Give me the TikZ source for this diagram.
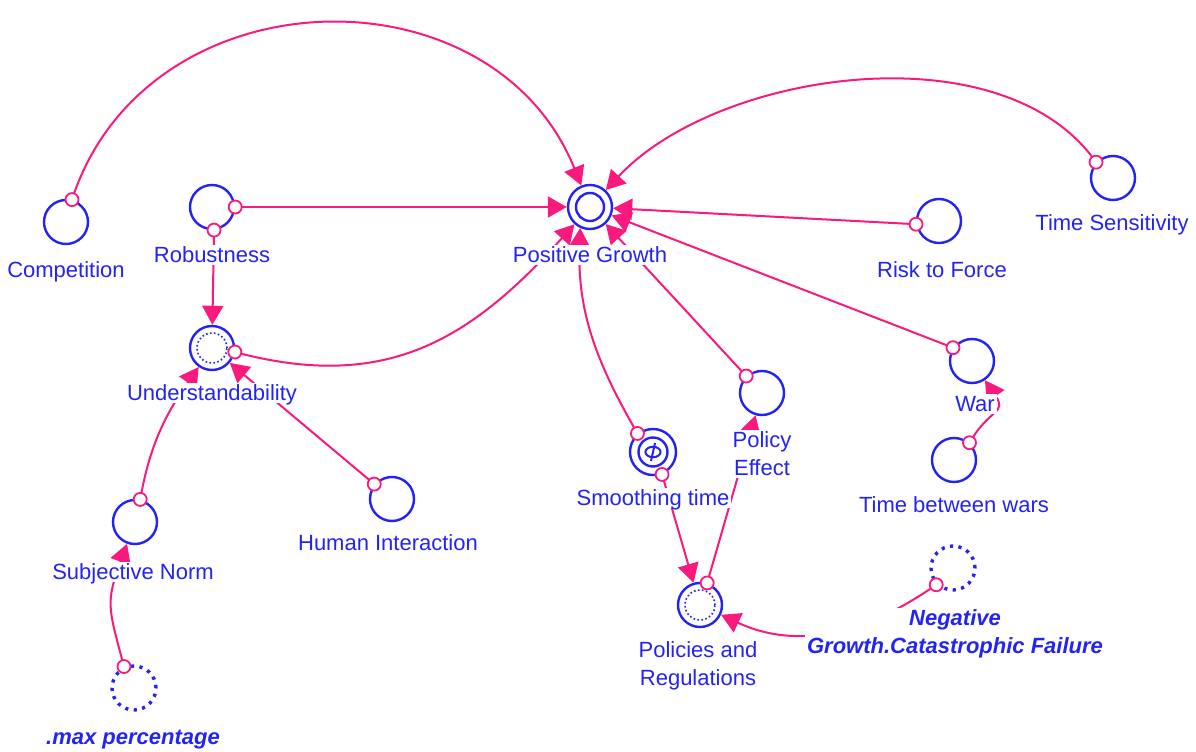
\documentclass[tikz,border=0pt]{standalone}
\usepackage{fontspec}
\setmainfont{Liberation Sans}
\usetikzlibrary{arrows.meta}
\definecolor{vblue}{RGB}{35,35,245}
\definecolor{vpink}{RGB}{250,25,125}

\begin{document}
\begin{tikzpicture}[x=0.5pt,y=0.5pt,>={Triangle[length=9.5pt,width=10.5pt]},
  aux/.style={circle,draw=vblue,line width=1.2pt,minimum size=22pt,inner sep=0pt,fill=white},
  ghost/.style={circle,draw=vblue,line width=1.7pt,dash pattern=on 1.6pt off 2.7pt,minimum size=22pt,inner sep=0pt},
  lbl/.style={fill=white,inner sep=1pt,text=vblue,font=\fontsize{11}{14}\selectfont,text height=8pt,text depth=0pt},
  lbls/.style={fill=white,inner sep=1pt,text=vblue,font=\fontsize{11}{14}\selectfont,align=center},
  link/.style={draw=vpink,line width=1pt},
  tail/.style={circle,draw=vpink,line width=0.9pt,fill=white,minimum size=6.5pt,inner sep=0pt,pos=0}]
  \useasboundingbox (0,0) rectangle (1196,751);

  \node [aux] (comp) at (66,529) {};
  \node [aux] (rob) at (212,544) {};
  \node [aux] (pg) at (590,544) {};
  \node [aux] (risk) at (939,530) {};
  \node [aux] (tsens) at (1113,573) {};
  \node [aux] (und) at (212,403) {};
  \node [aux] (war) at (972,390) {};
  \node [aux] (tbw) at (954,291) {};
  \node [aux] (peff) at (762,358) {};
  \node [aux,minimum size=23pt] (smooth) at (653,299) {};
  \node [aux] (hum) at (392,252) {};
  \node [aux] (subj) at (135,229) {};
  \node [ghost] (maxp) at (134,63) {};
  \node [ghost] (neg) at (953,183) {};
  \node [aux] (pol) at (700,146) {};

  % inner rings
  \draw [vblue,line width=1.2pt] (pg) circle (7pt);
  \draw [vblue,line width=0.8pt,dash pattern=on 0.8pt off 1.2pt] (und) circle (7.5pt);
  \draw [vblue,line width=0.8pt,dash pattern=on 0.8pt off 1.2pt] (pol) circle (7.5pt);
  \draw [vblue,line width=1.2pt] (smooth) circle (7.25pt);
  \draw [vblue,line width=1pt] (smooth) ellipse (3.8pt and 2.6pt);
  \draw [vblue,line width=1pt] ([shift={(2,9)}]smooth.center) -- ([shift={(-2,-9)}]smooth.center);

  % links into Positive Growth
  \path[->] (comp.75) edge [link,out=72,in=112,looseness=1.2] node [tail] {} (pg)
        (rob.0) edge [link] node [tail] {} (pg)
        (tsens.137) edge [link,out=125,in=47,looseness=0.85] node [tail] {} (pg)
        (risk.188) edge [link] node [tail] {} (pg)
        (war.145) edge [link] node [tail] {} (pg)
        (peff.133) edge [link] node [tail] {} (pg)
        (smooth.130) edge [link,out=120,in=268] node [tail] {} (pg.245)
        (und.350) edge [link,out=-15,in=228,looseness=1.1] node [tail] {} (pg);

  % links into Understandability
  \path[->] (rob.275) edge [link] node [tail] {} (und)
        (subj.77) edge [link,out=80,in=235] node [tail] {} (und)
        (hum.140) edge [link] node [tail] {} (und);

  % the rest
  \path[->] (maxp.115) edge [link,out=105,in=250,looseness=1.3] node [tail] {} (subj)
        (tbw.48) edge [link,out=60,in=-56,looseness=1.6] node [tail] {} (war)
        (smooth.-68) edge [link] node [tail] {} (pol)
        (pol.72) edge [link] node [tail] {} (peff)
        (neg.225) edge [link,out=215,in=-25] node [tail] {} (pol);

  % labels
  \node [lbl] (comp-l) at (66,481) {Competition};
  \node [lbl] (rob-l) at (212,496) {Robustness};
  \node [lbl] (pg-l) at (590,496) {Positive Growth};
  \node [lbl] (risk-l) at (942,481) {Risk to Force};
  \node [lbl] (tsens-l) at (1112,528) {Time Sensitivity};
  \node [lbl] (und-l) at (212,358) {Understandability};
  \node [lbl] (war-l) at (975,347) {War};
  \node [lbls] (peff-l) at (762,297) {Policy\\Effect};
  \node [lbl] (smooth-l) at (653,253) {Smoothing time};
  \node [lbl] (tbw-l) at (954,246) {Time between wars};
  \node [lbl] (hum-l) at (388,208) {Human Interaction};
  \node [lbl] (subj-l) at (133,179) {Subjective Norm};
  \node [lbls] (pol-l) at (698,85) {Policies and\\Regulations};
  \node [lbls,font=\fontsize{11}{14}\selectfont\bfseries\itshape] (neg-l) at (955,117) {Negative\\Growth.Catastrophic Failure};
  \node [lbl,font=\fontsize{11}{14}\selectfont\bfseries\itshape] (maxp-l) at (133,15) {.max percentage};
\end{tikzpicture}
\end{document}
